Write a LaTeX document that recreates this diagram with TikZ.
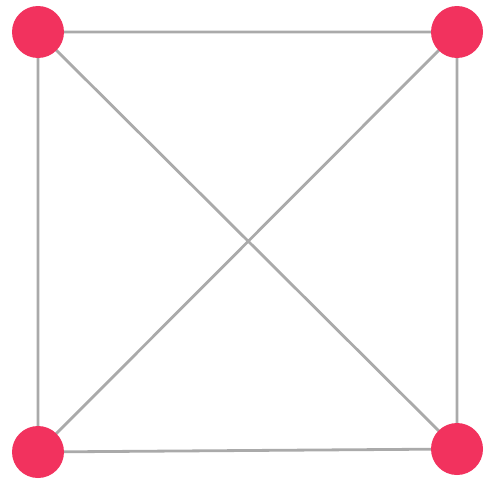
\documentclass[tikz,border=0pt]{standalone}
\usetikzlibrary{backgrounds}
\definecolor{nodered}{RGB}{242,50,94}
\definecolor{edgegray}{RGB}{170,170,170}
\begin{document}
\begin{tikzpicture}[x=1pt,y=-1pt,
  vertex/.style={circle,fill=nodered,draw=none,minimum size=52pt,inner sep=0pt},
  edge/.style={draw=edgegray,line width=2.8pt}]
\node[vertex] (a) at (38,32) {};
\node[vertex] (b) at (457,32) {};
\node[vertex] (c) at (38,452) {};
\node[vertex] (d) at (457,449) {};
\begin{scope}[on background layer]
\fill[white] (0,0) rectangle (485,482);
\path[edge] (a.center) -- (b.center) (b.center) -- (d.center) (d.center) -- (c.center) (c.center) -- (a.center) (a.center) -- (d.center) (b.center) -- (c.center);
\end{scope}
\useasboundingbox (0,0) rectangle (485,482);
\end{tikzpicture}
\end{document}
